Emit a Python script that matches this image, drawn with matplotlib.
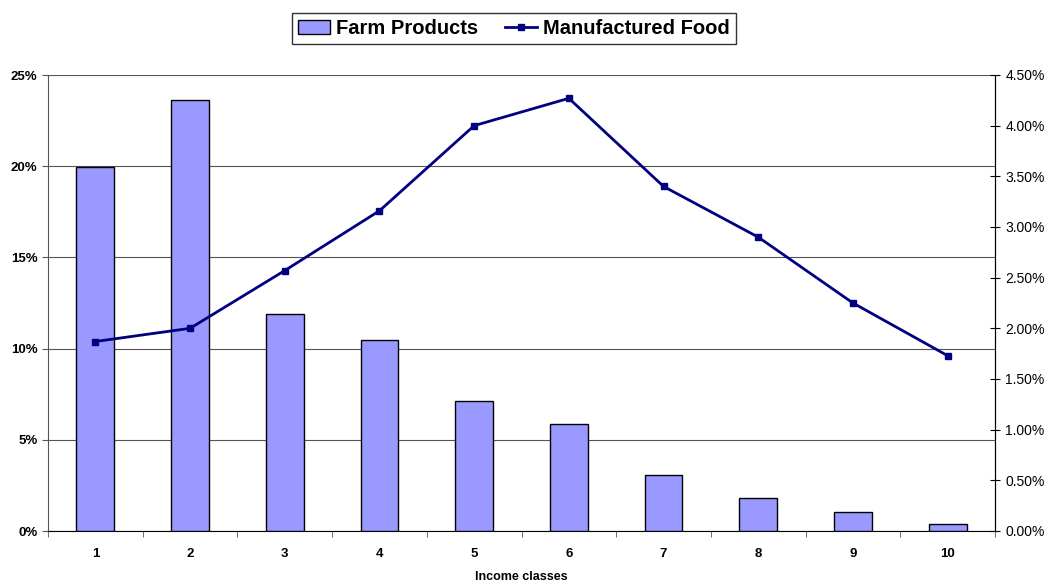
import matplotlib.pyplot as plt
import numpy as np
from matplotlib.ticker import FuncFormatter, MultipleLocator

classes = ["1", "2", "3", "4", "5", "6", "7", "8", "9", "10"]
farm = [19.95, 23.65, 11.9, 10.45, 7.12, 5.88, 3.08, 1.8, 1.03, 0.38]
manuf = [1.87, 2.0, 2.57, 3.16, 4.0, 4.27, 3.4, 2.9, 2.25, 1.73]

plt.rcParams['font.family'] = ['Liberation Sans', 'DejaVu Sans']

fig = plt.figure(figsize=(10.49, 5.86), dpi=100)
ax = fig.add_axes([48/1049, 1-531/586, 947/1049, 456/586])
x = np.arange(len(classes))

bars = ax.bar(x, farm, width=0.4, color="#9999ff", edgecolor="black",
              linewidth=1, zorder=3, label="Farm Products")
ax.set_xlim(-0.5, len(classes)-0.5)
ax.set_ylim(0, 25)
ax.yaxis.set_major_locator(MultipleLocator(5))
ax.yaxis.set_major_formatter(FuncFormatter(lambda v, p: f"{v:.0f}%"))
ax.grid(axis="y", color="#555555", linewidth=0.8, zorder=0)
ax.set_xticks(x)
ax.set_xticklabels(classes, fontsize=9.5, fontweight="bold")
ax.set_xticks(np.arange(-0.5, len(classes)), minor=True)
ax.tick_params(axis="x", which="major", length=0, pad=12)
ax.tick_params(axis="x", which="minor", length=4, direction="out", color="#555555")
ax.tick_params(axis="y", length=4, labelsize=9.5, color="#555555")
for lab in ax.get_yticklabels():
    lab.set_fontweight("bold")
ax.spines["top"].set_visible(False)
ax.spines["left"].set_color("#555555")
ax.spines["bottom"].set_color("black")
ax.set_xlabel("Income classes", fontsize=9, fontweight="bold", labelpad=8)

ax2 = ax.twinx()
line, = ax2.plot(x, manuf, color="#000080", linewidth=2, marker="s",
                 markersize=5, label="Manufactured Food", zorder=4)
ax2.set_ylim(0, 4.5)
ax2.yaxis.set_major_locator(MultipleLocator(0.5))
ax2.yaxis.set_major_formatter(FuncFormatter(lambda v, p: f"{v:.2f}%"))
ax2.tick_params(axis="y", direction="inout", length=7, labelsize=10, pad=4)
ax2.spines["top"].set_visible(False)
ax2.spines["left"].set_visible(False)
ax2.spines["bottom"].set_visible(False)
ax2.spines["right"].set_color("black")

leg = fig.legend(handles=[bars, line], loc="upper center",
                 bbox_to_anchor=(0.49, 0.995), ncol=2, frameon=True,
                 fancybox=False, edgecolor="black",
                 prop={"weight": "bold", "size": 14.5}, handlelength=1.6,
                 handletextpad=0.3, columnspacing=1.3, borderpad=0.3)
leg.get_frame().set_linewidth(1)

fig.savefig("out.png", dpi=100)
